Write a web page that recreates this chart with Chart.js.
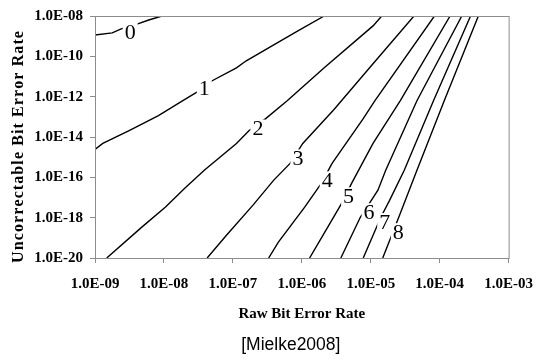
<!DOCTYPE html>
<html>
<head>
<meta charset="utf-8">
<script src="https://cdn.jsdelivr.net/npm/chart.js@4"></script>
<style>
    html, body { margin: 0; padding: 0; background: #fff; }
</style>
</head>
<body>
<canvas id="berChart" width="545" height="360"></canvas>
<script>
// ===============================
// DATA (log10 values)
// ===============================

const xTicks = [-9, -8, -7, -6, -5, -4, -3];
const yTicks = [-20, -18, -16, -14, -12, -10, -8];

const levels = ['0', '1', '2', '3', '4', '5', '6', '7', '8'];

// raw bit error rate (log10) along each contour
const curveX = [
    [-9.0, -8.75, -8.62, -8.39, -8.22, -8.03],
    [-9.0, -8.887, -8.505, -8.08, -7.726, -7.486, -7.30, -6.948, -6.806, -6.382, -6.057, -5.675],
    [-8.83, -8.321, -7.981, -7.698, -7.415, -6.948, -6.764, -6.524, -6.212, -5.675, -4.967, -4.84],
    [-7.373, -7.09, -6.708, -6.41, -6.17, -5.986, -5.533, -4.967, -4.373],
    [-6.481, -6.34, -5.958, -5.717, -5.561, -5.109, -4.939, -4.076],
    [-5.887, -5.675, -5.42, -5.278, -4.967, -4.571, -3.849],
    [-5.434, -5.151, -4.896, -4.783, -4.33, -3.679],
    [-5.109, -4.854, -4.727, -4.514, -4.09, -3.552],
    [-4.826, -4.571, -4.33, -3.934, -3.439]
];

// uncorrectable bit error rate (log10) along each contour
const curveY = [
    [-8.94, -8.84, -8.64, -8.40, -8.20, -8.0],
    [-14.62, -14.32, -13.68, -12.94, -12.20, -11.70, -11.21, -10.57, -10.22, -9.38, -8.74, -8.0],
    [-20.0, -18.47, -17.48, -16.54, -15.65, -14.32, -13.68, -13.09, -12.20, -10.57, -8.49, -8.0],
    [-20.0, -18.86, -17.38, -16.15, -15.31, -14.32, -12.64, -10.37, -8.0],
    [-20.0, -19.21, -17.48, -16.30, -15.31, -13.09, -12.20, -8.0],
    [-20.0, -18.77, -17.28, -16.30, -14.32, -12.20, -8.0],
    [-20.0, -17.98, -16.64, -15.65, -12.20, -8.0],
    [-20.0, -17.98, -17.14, -15.65, -12.20, -8.0],
    [-20.0, -17.78, -15.65, -12.20, -8.0]
];

// where the level numbers sit (log10)
const labelX = [-8.49, -7.415, -6.637, -6.057, -5.632, -5.321, -5.024, -4.797, -4.60];
const labelY = [-8.79, -11.60, -13.58, -15.06, -16.15, -16.94, -17.73, -18.22, -18.72];


// ===============================
// HELPERS
// ===============================

function sciLabel(value) {
    let e = Math.round(Math.log10(value));
    return '1.0E-' + String(-e).padStart(2, '0');
}

const serif = '"Liberation Serif", "Times New Roman", serif';

// draws text centred on (0,0) with extra room between letters
function spacedText(ctx, text, spacing) {
    let widths = [...text].map(ch => ctx.measureText(ch).width);
    let total = widths.reduce((a, b) => a + b, 0) + spacing * (text.length - 1);
    let x = -total / 2;

    ctx.textAlign = 'left';
    [...text].forEach((ch, i) => {
        ctx.fillText(ch, x, 0);
        x += widths[i] + spacing;
    });
}


// ===============================
// PLUGINS
// ===============================

const frameAndLabels = {
    id: 'frameAndLabels',

    afterDatasetsDraw(chart) {
        const ctx = chart.ctx;
        const area = chart.chartArea;
        const xs = chart.scales.x;
        const ys = chart.scales.y;

        ctx.save();

        // plot box
        ctx.strokeStyle = '#8c8c8c';
        ctx.lineWidth = 1;
        ctx.strokeRect(area.left + 0.5, area.top + 0.5, area.right - area.left, area.bottom - area.top);

        // contour numbers on white patches
        ctx.font = '22px ' + serif;
        ctx.textAlign = 'center';
        ctx.textBaseline = 'middle';

        levels.forEach((txt, i) => {
            let px = xs.getPixelForValue(10 ** labelX[i]);
            let py = ys.getPixelForValue(10 ** labelY[i]);
            let w = ctx.measureText(txt).width;

            ctx.fillStyle = '#fff';
            ctx.fillRect(px - w / 2 - 2, py - 9, w + 4, 18);

            ctx.fillStyle = '#000';
            ctx.fillText(txt, px, py + 1);
        });

        ctx.restore();
    },

    afterDraw(chart) {
        const ctx = chart.ctx;
        const area = chart.chartArea;
        const midX = (area.left + area.right) / 2;

        ctx.save();
        ctx.fillStyle = '#000';
        ctx.textAlign = 'center';
        ctx.textBaseline = 'middle';

        // x title
        ctx.font = 'bold 15px ' + serif;
        ctx.fillText('Raw Bit Error Rate', midX, area.bottom + 56);

        // y title
        ctx.save();
        ctx.translate(19, 147);
        ctx.rotate(-Math.PI / 2);
        ctx.font = 'bold 16px ' + serif;
        spacedText(ctx, 'Uncorrectable Bit Error Rate', 1.1);
        ctx.restore();

        // source caption
        ctx.textAlign = 'center';
        ctx.font = '17.5px "Liberation Sans", Arial, sans-serif';
        ctx.fillText('[Mielke2008]', midX - 11, area.bottom + 87);

        ctx.restore();
    }
};


// ===============================
// CHART SETUP
// ===============================

const ctx = document.getElementById('berChart').getContext('2d');

let datasets = curveX.map((xs, i) => ({
    label: levels[i],
    data: xs.map((lx, j) => ({ x: 10 ** lx, y: 10 ** curveY[i][j] })),
    showLine: true,
    borderColor: '#000',
    borderWidth: 1.4,
    pointRadius: 0,
    tension: 0,
    fill: false
}));

let berChart = new Chart(ctx, {

    type: 'scatter',

    data: { datasets: datasets },

    options: {
        responsive: false,
        animation: false,
        devicePixelRatio: 1,

        layout: {
            padding: { top: 15, right: 26, left: 0, bottom: 0 }
        },

        plugins: {
            legend: { display: false },
            tooltip: { enabled: false }
        },

        scales: {
            x: {
                type: 'logarithmic',
                min: 10 ** xTicks[0],
                max: 10 ** xTicks[xTicks.length - 1],
                afterBuildTicks: s => { s.ticks = xTicks.map(e => ({ value: 10 ** e })); },
                afterFit: s => { s.height = 102; },
                ticks: {
                    callback: v => sciLabel(v),
                    autoSkip: false,
                    maxRotation: 0,
                    padding: 12,
                    color: '#000',
                    font: { family: serif, size: 15, weight: 'bold' }
                },
                grid: {
                    drawOnChartArea: false,
                    tickLength: 5,
                    color: '#8c8c8c'
                },
                border: { color: '#8c8c8c' }
            },

            y: {
                type: 'logarithmic',
                min: 10 ** yTicks[0],
                max: 10 ** yTicks[yTicks.length - 1],
                afterBuildTicks: s => { s.ticks = yTicks.map(e => ({ value: 10 ** e })); },
                afterFit: s => { s.width = 95; },
                ticks: {
                    callback: v => sciLabel(v),
                    autoSkip: false,
                    padding: 7,
                    color: '#000',
                    font: { family: serif, size: 15, weight: 'bold' }
                },
                grid: {
                    drawOnChartArea: false,
                    tickLength: 5,
                    color: '#8c8c8c'
                },
                border: { color: '#8c8c8c' }
            }
        }
    },

    plugins: [frameAndLabels]
});
</script>
</body>
</html>
